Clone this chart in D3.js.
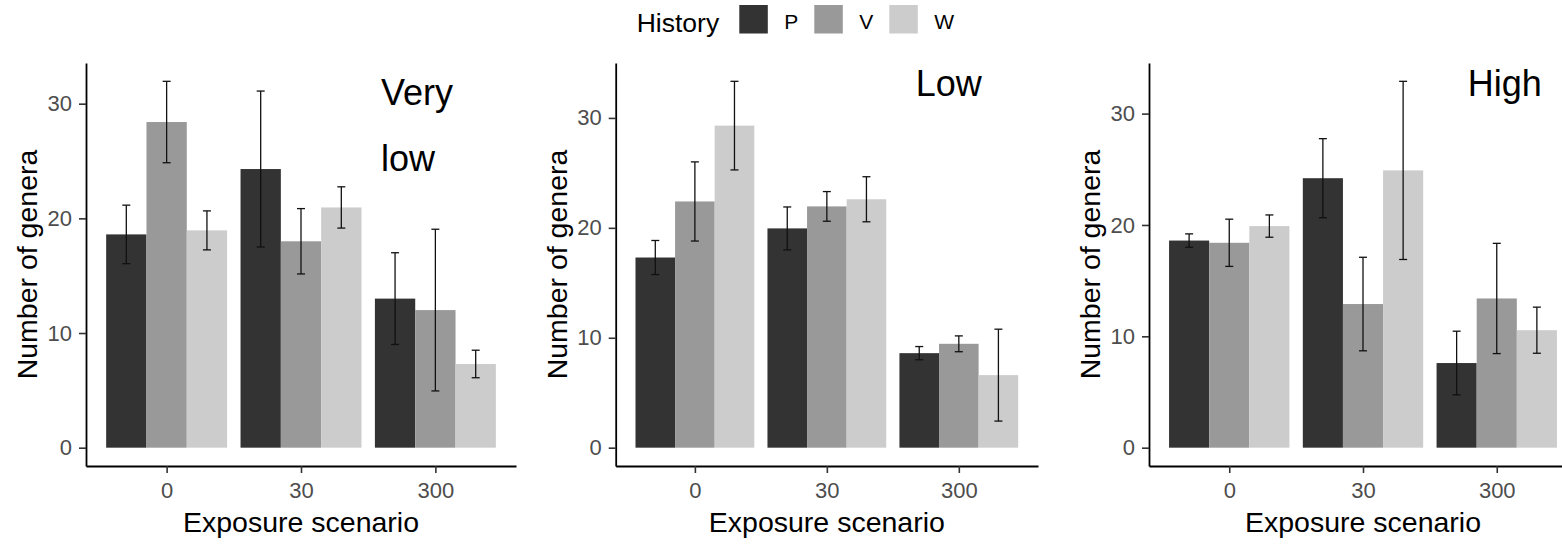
<!DOCTYPE html>
<html>
<head>
<meta charset="utf-8">
<script src="https://cdn.jsdelivr.net/npm/d3@7"></script>
<style>
  html, body { margin: 0; padding: 0; background: #fff; }
  svg { display: block; overflow: hidden; }
</style>
</head>
<body>
<svg id="chart" width="1562" height="544"></svg>
<script>
// Categories
const scenarios = ["0", "30", "300"];
const histories = ["P", "V", "W"];
const yTicks = [0, 10, 20, 30];

// Mean number of genera, rows = scenario, cols = history (P, V, W)
const veryLowMean = [[18.6, 28.4, 18.95], [24.3, 18.0, 20.95], [13.0, 12.0, 7.3]];
const veryLowSe   = [[2.55, 3.55, 1.7],   [6.8, 2.85, 1.8],    [4.0, 7.05, 1.2]];
const lowMean     = [[17.3, 22.4, 29.3],  [19.95, 21.95, 22.6], [8.6, 9.45, 6.6]];
const lowSe       = [[1.55, 3.6, 4.03],   [1.95, 1.35, 2.05],  [0.6, 0.72, 4.18]];
const highMean    = [[18.6, 18.4, 19.9],  [24.2, 12.9, 24.9],  [7.6, 13.4, 10.55]];
const highSe      = [[0.6, 2.12, 1.0],    [3.55, 4.2, 8.0],    [2.86, 4.95, 2.07]];

const fills = ["#333333", "#999999", "#cccccc"];
const font = "'Liberation Sans', Arial, sans-serif";

var svg = d3.select("#chart");

const plotTop = 63, plotBottom = 466;

const panels = [
    {label: ["Very", "low"], mean: veryLowMean, se: veryLowSe, x0: 86, x1: 516, labelX: 381},
    {label: ["Low"], mean: lowMean, se: lowSe, x0: 615.7, x1: 1038, labelX: 915.7},
    {label: ["High"], mean: highMean, se: highSe, x0: 1149, x1: 1577, labelX: 1467.7}
];

panels.forEach(function(p) {
    // flatten into rows
    var rows = [];
    scenarios.forEach((s, i) => histories.forEach((h, j) => {
        rows.push({s: s, h: h, j: j, mean: p.mean[i][j], se: p.se[i][j]});
    }));

    // ggplot-style 5% expansion on continuous y
    const ymax = d3.max(rows, d => d.mean + d.se);
    const pad = ymax * 0.05;
    const y = d3.scaleLinear().domain([-pad, ymax + pad]).range([plotBottom, plotTop]);

    // discrete x with 0.6 unit expansion
    const x = d3.scalePoint().domain(scenarios).range([p.x0, p.x1]).padding(0.6);
    const step = x.step();
    const sub = d3.scaleBand().domain(histories).range([0, 0.9 * step]);

    var g = svg.append("g");

    g.selectAll("rect.bar")
        .data(rows)
        .join("rect")
        .attr("class", "bar")
        .attr("x", d => x(d.s) - 0.45 * step + sub(d.h))
        .attr("width", sub.bandwidth())
        .attr("y", d => y(d.mean))
        .attr("height", d => y(0) - y(d.mean))
        .attr("fill", d => fills[d.j]);

    // error bars
    var eb = g.append("g")
        .attr("stroke", "#111")
        .attr("stroke-width", 1.3)
        .selectAll("g")
        .data(rows)
        .join("g")
        .attr("transform", d => `translate(${x(d.s) - 0.45 * step + sub(d.h) + sub.bandwidth() / 2},0)`);
    eb.append("line")
        .attr("y1", d => y(d.mean - d.se))
        .attr("y2", d => y(d.mean + d.se));
    eb.append("line")
        .attr("x1", -4).attr("x2", 4)
        .attr("y1", d => y(d.mean + d.se)).attr("y2", d => y(d.mean + d.se));
    eb.append("line")
        .attr("x1", -4).attr("x2", 4)
        .attr("y1", d => y(d.mean - d.se)).attr("y2", d => y(d.mean - d.se));

    // axes
    var yAxis = g.append("g")
        .attr("transform", `translate(${p.x0},0)`)
        .call(d3.axisLeft(y).tickValues(yTicks).tickSize(7).tickSizeOuter(0).tickPadding(7));
    var xAxis = g.append("g")
        .attr("transform", `translate(0,${plotBottom})`)
        .call(d3.axisBottom(x).tickSize(7).tickSizeOuter(0).tickPadding(9));

    [yAxis, xAxis].forEach(a => {
        a.select(".domain").attr("stroke", "#000").attr("stroke-width", 1.8);
        a.selectAll(".tick line").attr("stroke", "#333").attr("stroke-width", 1.6);
        a.selectAll(".tick text")
            .attr("fill", "#4d4d4d")
            .style("font-family", font)
            .style("font-size", "22px");
    });

    // axis titles
    g.append("text")
        .attr("transform", `translate(${p.x0 - 49},${(plotTop + plotBottom) / 2}) rotate(-90)`)
        .attr("text-anchor", "middle")
        .style("font-family", font)
        .style("font-size", "28.5px")
        .text("Number of genera");
    g.append("text")
        .attr("x", (p.x0 + p.x1) / 2)
        .attr("y", 532)
        .attr("text-anchor", "middle")
        .style("font-family", font)
        .style("font-size", "28.5px")
        .text("Exposure scenario");

    // panel label
    g.selectAll("text.plabel")
        .data(p.label)
        .join("text")
        .attr("class", "plabel")
        .attr("x", p.labelX)
        .attr("y", (d, i) => (p.label.length > 1 ? 105 : 96) + i * 66)
        .style("font-family", font)
        .style("font-size", "36px")
        .text(d => d);
});

// shared legend on top
var legend = svg.append("g");
legend.append("text")
    .attr("x", 636.7).attr("y", 31.5)
    .style("font-family", font)
    .style("font-size", "26.5px")
    .text("History");
const keyX = [739.3, 814.3, 889.3];
var keys = legend.selectAll("g.key")
    .data(histories)
    .join("g")
    .attr("class", "key")
    .attr("transform", (d, i) => `translate(${keyX[i]},5)`);
keys.append("rect")
    .attr("width", 28.5).attr("height", 28.5)
    .attr("fill", (d, i) => fills[i]);
keys.append("text")
    .attr("x", 45).attr("y", 23.5)
    .style("font-family", font)
    .style("font-size", "21px")
    .text(d => d);
</script>
</body>
</html>
